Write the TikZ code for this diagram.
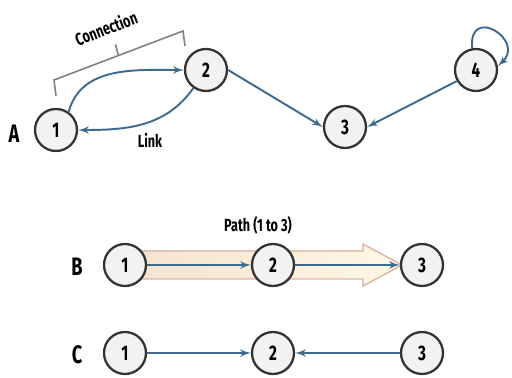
\documentclass[tikz,border=0pt]{standalone}
\usepackage{fontspec}
\setmainfont{Fira Sans}[FakeStretch=0.72]
\usetikzlibrary{calc,arrows,positioning}
\definecolor{linkblue}{HTML}{3D6A8E}
\definecolor{nodegray}{HTML}{F2F2F2}
\definecolor{nodeedge}{HTML}{333333}
\definecolor{pathedge}{HTML}{E0B4A4}
\definecolor{pathfill}{HTML}{FEF8E4}
\begin{document}
\begin{tikzpicture}[x=0.02cm,y=-0.02cm,>=latex']
      \tikzset{
	  vertex/.style={circle, draw=nodeedge, line width=1.3pt, fill=nodegray, inner sep=0em, minimum size=0.84cm, font=\bfseries\large},
	  link/.style={draw=linkblue, line width=1.1pt, ->},
	  rowlabel/.style={font=\bfseries\Large},
      }
      \useasboundingbox (0,0) rectangle (512,378);

      % A: a small graph
      \node (la) at (14,134) [rowlabel] {A};
      \node (a1) at (56,130) [vertex] {1};
      \node (a2) at (206,70) [vertex] {2};
      \node (a3) at (345,127) [vertex] {3};
      \node (a4) at (476,70) [vertex] {4};
      \draw [link] (a1.55) to[out=75,in=180] (a2.west);
      \draw [link] (a2.-125) to[out=-125,in=0] (a1.east);
      \draw [link] (a2.east) -- (a3.west);
      \draw [link] (a4.-150) -- (a3.east);
      \draw [link] (a4.100) .. controls +(-4,-44) and +(28,-26) .. (a4.10);
      \node (ll) at (150,140) [font=\bfseries] {Link};

      % the bracket over the connection
      \coordinate (k1) at (56,96);
      \coordinate (k2) at (54,80);
      \coordinate (k3) at (183,31);
      \coordinate (k4) at (185,46);
      \draw [gray, line width=0.9pt] (k1) -- (k2) -- (k3) -- (k4);
      \draw [gray, line width=0.9pt] ($(k2)!0.5!(k3)$) -- ++(-3,-11);
      \node (lc) at (106,28) [rotate=21, font=\bfseries] {Connection};

      % B: a path
      \node (lb) at (77,267) [rowlabel] {B};
      \node (pa) at (258,225) [font=\bfseries] {Path (1 to 3)};
      \filldraw [draw=pathedge, line width=0.8pt, left color=pathedge!30!pathfill, right color=pathfill]
            (140,251) -- (363,251) -- (363,244) -- (402,265) -- (363,286) -- (363,279) -- (140,279) -- cycle;
      \node (b1) at (125,265) [vertex] {1};
      \node (b2) at (273,265) [vertex] {2};
      \node (b3) at (422,265) [vertex] {3};
      \draw [link] (b1) -- (b2);
      \draw [link] (b2) -- (b3);

      % C: links into one node
      \node (lcc) at (77,355) [rowlabel] {C};
      \node (c1) at (125,353) [vertex] {1};
      \node (c2) at (273,353) [vertex] {2};
      \node (c3) at (422,353) [vertex] {3};
      \draw [link] (c1) -- (c2);
      \draw [link] (c3) -- (c2);
\end{tikzpicture}
\end{document}
